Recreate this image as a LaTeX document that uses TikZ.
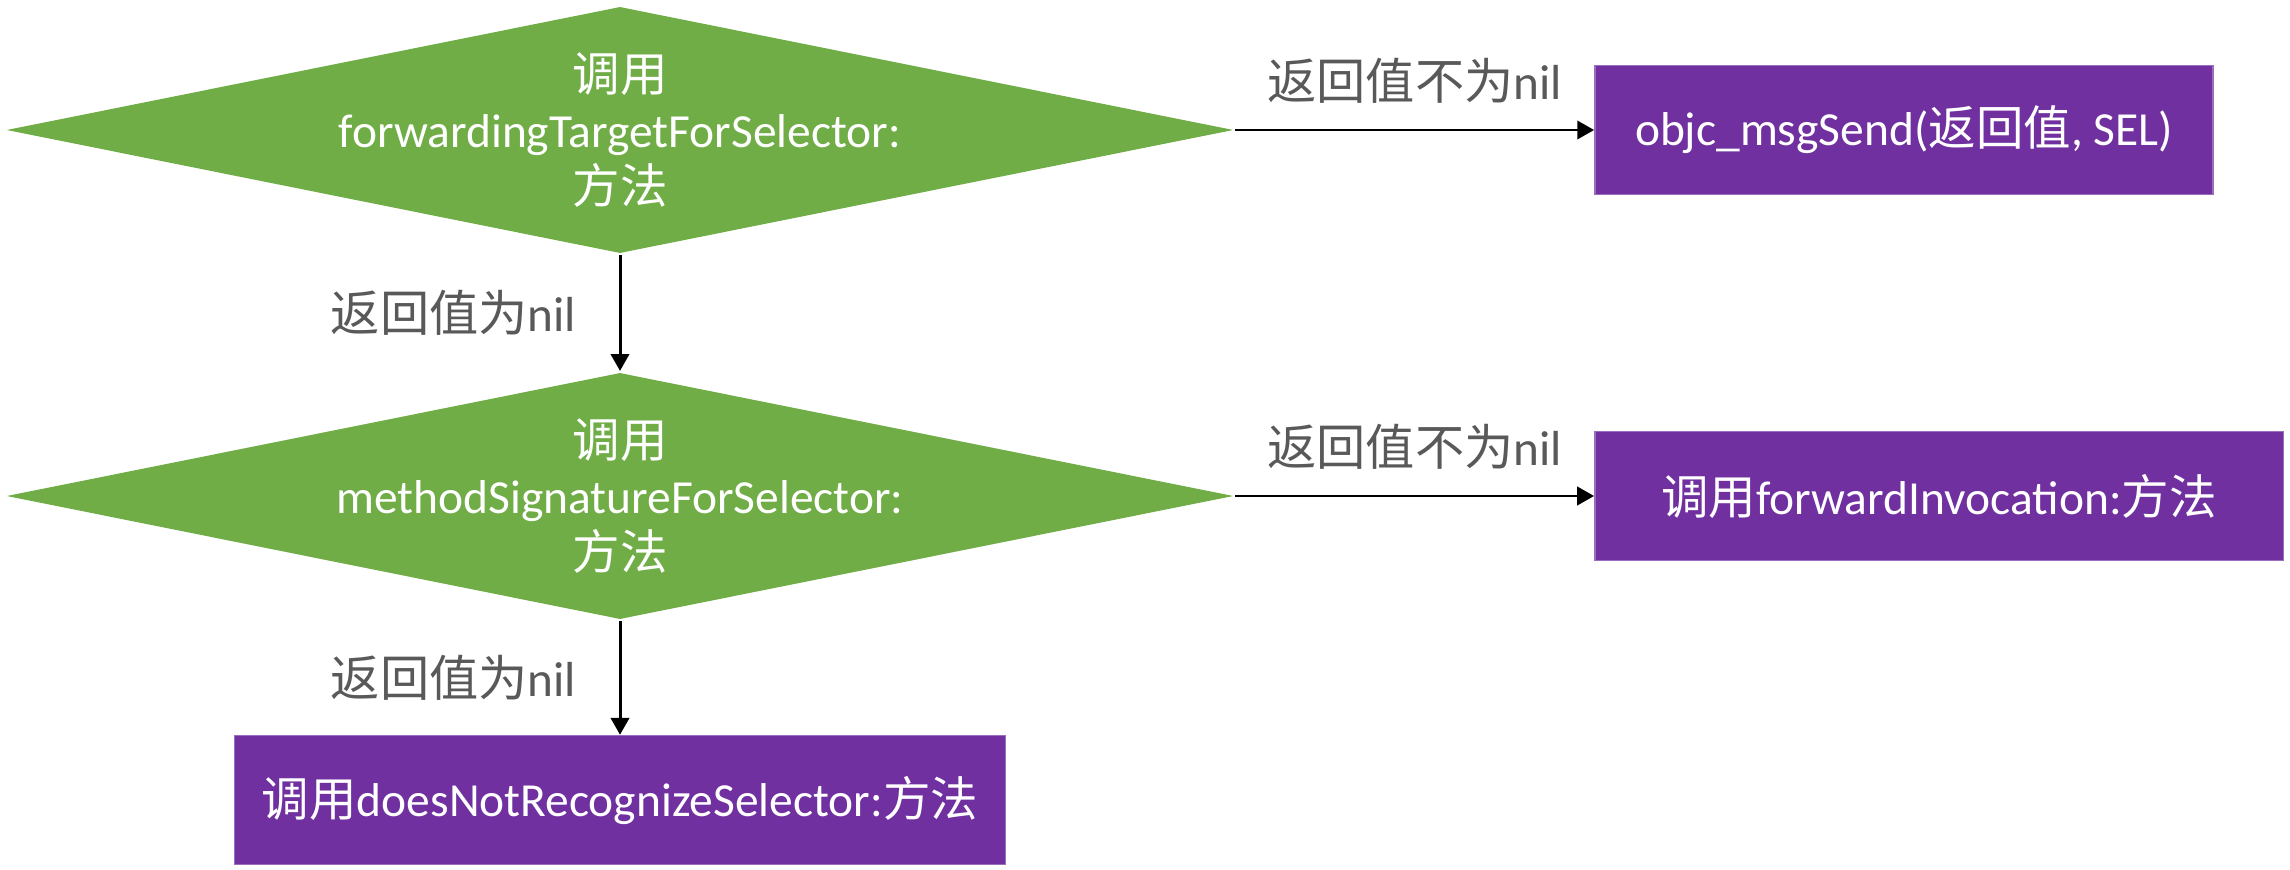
\documentclass[tikz,border=0pt]{standalone}
\usepackage{fontspec}
\setmainfont{Carlito}
\newfontfamily\cjk{Noto Sans CJK SC}
\usetikzlibrary{shapes.geometric,arrows.meta}
\definecolor{leafgreen}{HTML}{70AD47}
\definecolor{grape}{HTML}{7030A0}
\definecolor{labelgray}{HTML}{595959}
\tikzset{
  decision/.style={diamond,fill=leafgreen,minimum width=12.27cm,minimum height=2.47cm,inner sep=0},
  dtext/.style={text=white,align=center,font=\fontsize{13.5}{16}\selectfont},
  action/.style={rectangle,fill=grape,draw=grape!70!white,line width=0.4pt,minimum height=1.29cm,text=white,font=\fontsize{13.5}{16}\selectfont},
  lbl/.style={text=labelgray,inner sep=0,font=\fontsize{14}{17}\selectfont},
}
\begin{document}
\begin{tikzpicture}[x=0.01cm,y=-0.01cm,>={Triangle[length=4.8pt,width=5.2pt]},line width=0.85pt]
\useasboundingbox (0,0) rectangle (2290,870);
% decisions
\node[decision] (fwd) at (620,130) {};
\node[dtext] (fwdtxt) at (fwd) {{\cjk 调用}\\forwardingTargetForSelector:\\{\cjk 方法}};
\node[decision] (sig) at (620,496) {};
\node[dtext] (sigtxt) at (sig) {{\cjk 调用}\\methodSignatureForSelector:\\{\cjk 方法}};
% actions
\node[action,minimum width=6.18cm] (send) at (1904,130) {objc\_msgSend({\cjk 返回值}, SEL)};
\node[action,minimum width=6.88cm] (invoke) at (1939,496) {{\cjk 调用}forwardInvocation:{\cjk 方法}};
\node[action,minimum width=7.71cm] (crash) at (620,800) {{\cjk 调用}doesNotRecognizeSelector:{\cjk 方法}};
% arrows
\draw[->] (fwd.east) -- (send.west) node[lbl,midway,above=7pt] (l1) {{\cjk 返回值不为}nil};
\draw[->] (fwd.south) -- (sig.north) node[lbl,midway,left=12pt] (l2) {{\cjk 返回值为}nil};
\draw[->] (sig.east) -- (invoke.west) node[lbl,midway,above=7pt] (l3) {{\cjk 返回值不为}nil};
\draw[->] (sig.south) -- (crash.north) node[lbl,midway,left=12pt] (l4) {{\cjk 返回值为}nil};
\end{tikzpicture}
\end{document}
